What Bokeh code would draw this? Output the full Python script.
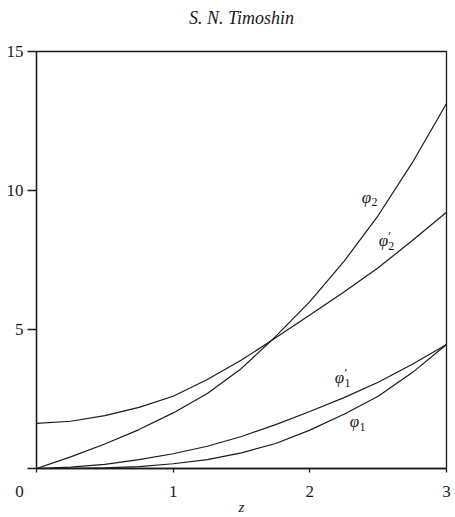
from bokeh.plotting import figure
from bokeh.models import Range1d, FixedTicker
from bokeh.embed import file_html
from bokeh.resources import INLINE
from bokeh.core.properties import value

# data
z = [0, 0.25, 0.5, 0.75, 1.0, 1.25, 1.5, 1.75, 2.0, 2.25, 2.5, 2.75, 3.0]
phi2 = [0.0, 0.42, 0.88, 1.40, 2.0, 2.7, 3.6, 4.75, 6.0, 7.45, 9.1, 11.0, 13.13]
phi2p = [1.62, 1.70, 1.90, 2.20, 2.60, 3.20, 3.90, 4.70, 5.52, 6.35, 7.22, 8.20, 9.22]
phi1p = [0.0, 0.05, 0.15, 0.32, 0.53, 0.80, 1.15, 1.58, 2.05, 2.55, 3.10, 3.75, 4.46]
phi1 = [0.0, 0.0, 0.02, 0.07, 0.17, 0.32, 0.56, 0.90, 1.38, 1.95, 2.60, 3.45, 4.46]

x_ticks = [0, 1, 2, 3]
y_ticks = [0, 5, 10, 15]
x_tick_labels = {0: "0\u2003\u2003", 1: "1", 2: "2", 3: "3"}

# curve labels: symbol, subscript, prime
curve_symbols = ["φ", "φ", "φ", "φ"]
curve_subs = ["2", "2", "1", "1"]
curve_primes = ["", "′", "′", ""]
label_z = [2.414, 2.538, 2.217, 2.326]
label_v = [9.75, 8.20, 3.27, 1.69]

SERIF = "Liberation Serif"
INK = "#1a1a1a"

p = figure(width=455, height=517, x_range=Range1d(0, 3), y_range=Range1d(0, 15),
           output_backend="svg", toolbar_location=None,
           min_border_left=36, min_border_right=9, min_border_top=51, min_border_bottom=49)

p.title.text = "S. N. Timoshin\n\u00a0"
p.title.align = "center"
p.title.text_font = SERIF
p.title.text_font_style = "italic"
p.title.text_font_size = "18px"
p.title.text_color = INK
p.title.standoff = 8

p.xgrid.visible = False
p.ygrid.visible = False
p.outline_line_color = INK
p.outline_line_width = 1.3
p.background_fill_color = "white"
p.border_fill_color = "white"

for ax in (p.xaxis[0], p.yaxis[0]):
    ax.axis_line_color = INK
    ax.axis_line_width = 1.3
    ax.major_tick_line_color = INK
    ax.major_tick_line_width = 1.3
    ax.minor_tick_line_color = None
    ax.major_tick_in = 0
    ax.major_label_text_font = SERIF
    ax.major_label_text_font_size = "17px"
    ax.major_label_text_color = INK

p.xaxis[0].ticker = FixedTicker(ticks=x_ticks)
p.xaxis[0].major_label_overrides = x_tick_labels
p.xaxis[0].major_tick_out = 4
p.xaxis[0].major_label_standoff = 9
p.xaxis[0].axis_label = "z"
p.xaxis[0].axis_label_text_font = SERIF
p.xaxis[0].axis_label_text_font_style = "italic"
p.xaxis[0].axis_label_text_font_size = "15px"
p.xaxis[0].axis_label_text_color = INK
p.xaxis[0].axis_label_standoff = -5

p.yaxis[0].ticker = FixedTicker(ticks=y_ticks)
p.yaxis[0].major_label_overrides = {0: ""}
p.yaxis[0].major_tick_out = 9
p.yaxis[0].major_label_standoff = 4

for ys in (phi2, phi2p, phi1p, phi1):
    p.line(z, ys, line_color=INK, line_width=1.2)

common = dict(text_font=value(SERIF), text_color=INK, text_baseline="middle")
p.text(x=label_z, y=label_v, text=curve_symbols, text_font_style="italic",
       text_font_size="17px", text_align="center", **common)
p.text(x=label_z, y=label_v, text=curve_subs, text_font_size="12px",
       text_align="left", x_offset=5, y_offset=5, **common)
p.text(x=label_z, y=label_v, text=curve_primes, text_font_size="13px",
       text_align="left", x_offset=5, y_offset=-5, **common)

open("out.html", "w").write(file_html(p, INLINE))
